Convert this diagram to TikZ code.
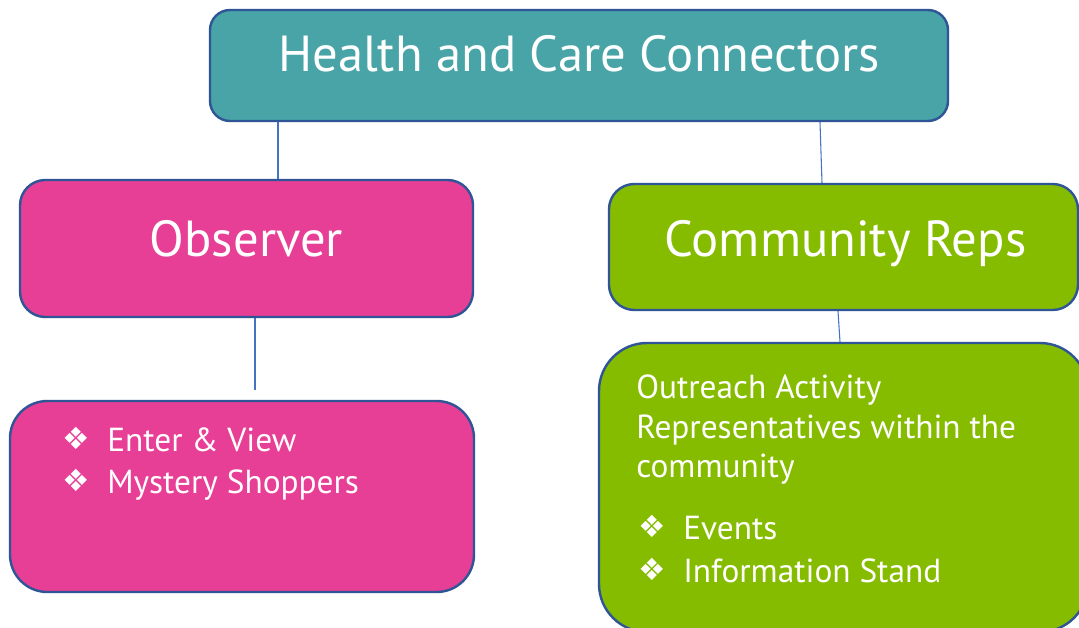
\documentclass[tikz,border=0pt]{standalone}
\usepackage{fontspec}
\setmainfont{PT Sans}
\newfontfamily\symfont{DejaVu Sans}
\definecolor{tealfill}{RGB}{72,164,166}
\definecolor{pinkfill}{RGB}{231,62,150}
\definecolor{greenfill}{RGB}{134,188,0}
\definecolor{edgeblue}{RGB}{47,85,151}
\definecolor{linkblue}{RGB}{68,114,196}
\begin{document}
\begin{tikzpicture}[x=0.75pt,y=-0.75pt,
  box/.style={draw=edgeblue, line width=1.8pt, rectangle, inner sep=0pt},
  conn/.style={draw=linkblue, line width=0.8pt},
  bigtxt/.style={text=white, inner sep=0pt, font=\fontsize{38}{45}\selectfont},
  smalltxt/.style={text=white, inner sep=0pt, anchor=base west, font=\fontsize{25}{29}\selectfont},
  bul/.style={text=white, inner sep=0pt, anchor=base west, font=\symfont\fontsize{23}{27}\selectfont}]
\clip (0,0) rectangle (1079,628);
\fill[white] (0,0) rectangle (1079,628);
% boxes
\node[box, fill=tealfill, rounded corners=15pt, minimum width=553.5pt, minimum height=83.25pt] (top) at (579,65.5) {};
\node[box, fill=pinkfill, rounded corners=19pt, minimum width=339.75pt, minimum height=102.75pt] (obs) at (246.5,248.5) {};
\node[box, fill=greenfill, rounded corners=19pt, minimum width=351.75pt, minimum height=94.5pt] (com) at (843.5,247) {};
\node[box, fill=pinkfill, rounded corners=28pt, minimum width=348pt, minimum height=143.25pt] (obsl) at (242,496.5) {};
\node[box, fill=greenfill, rounded corners=36pt, minimum width=366.75pt, minimum height=216.75pt] (coml) at (843.5,487.5) {};
% titles
\node[bigtxt, anchor=base] (ttop) at (579,71) {Health and Care Connectors};
\node[bigtxt, anchor=base] (tobs) at (246.5,256) {Observer};
\node[bigtxt, anchor=base] (tcom) at (845.5,256) {Community Reps};
% observer list
\node[bul] (b1) at (62,449) {❖};
\node[smalltxt] (e1) at (107,451) {Enter \& View};
\node[bul] (b2) at (62,491) {❖};
\node[smalltxt] (e2) at (107,493) {Mystery Shoppers};
% community list
\node[smalltxt] (c1) at (636,398) {Outreach Activity};
\node[smalltxt] (c2) at (636,438) {Representatives within the};
\node[smalltxt] (c3) at (636,477) {community};
\node[bul] (b3) at (638,537) {❖};
\node[smalltxt] (c4) at (683,539) {Events};
\node[bul] (b4) at (638,580) {❖};
\node[smalltxt] (c5) at (683,582) {Information Stand};
% connectors
\coordinate (obsend) at (255,390);
\draw[conn] (top.south -| 278,0) -- (obs.north -| 278,0);
\draw[conn] (top.south -| 820,0) -- (com.north -| 822,0);
\draw[conn] (obs.south -| 255,0) -- (obsend);
\draw[conn] (com.south -| 838,0) -- (coml.north -| 840,0);
\end{tikzpicture}
\end{document}
